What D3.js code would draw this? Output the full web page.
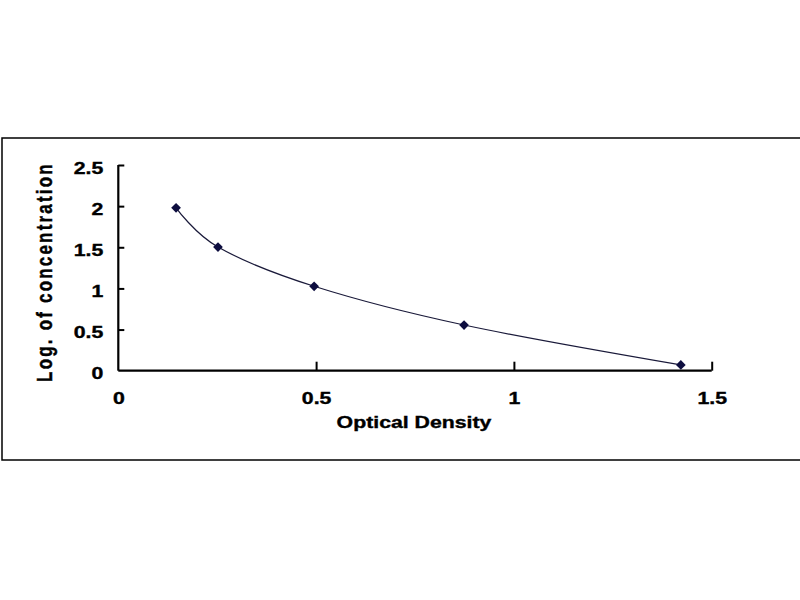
<!DOCTYPE html>
<html>
<head>
<meta charset="utf-8">
<script src="https://cdn.jsdelivr.net/npm/d3@7"></script>
<style>
  html, body { margin: 0; padding: 0; background: #fff; }
  svg { display: block; }
  text { font-family: "Liberation Sans", Arial, sans-serif; font-weight: bold; fill: #000; stroke: #000; stroke-width: 0.35px; }
</style>
</head>
<body>
<svg id="chart" width="800" height="600"></svg>
<script>
// Data
const opticalDensity = [0.146, 0.252, 0.495, 0.874, 1.422];
const logConcentration = [1.98, 1.503, 1.026, 0.555, 0.07];
const xTicks = [0, 0.5, 1, 1.5];
const yTicks = [0, 0.5, 1, 1.5, 2, 2.5];
const xTitle = "Optical Density";
const yTitle = "Log. of concentration";

const svg = d3.select("#chart");
const stretch = 1.33; // reference text is horizontally widened

// outer frame
svg.append("rect")
  .attr("x", 2).attr("y", 138)
  .attr("width", 810).attr("height", 322)
  .attr("fill", "#fff").attr("stroke", "#000").attr("stroke-width", 1.5);

const x = d3.scaleLinear().domain([0, 1.5]).range([118.3, 711.7]);
const y = d3.scaleLinear().domain([0, 2.5]).range([370.7, 165]);

// x axis
const xAxis = d3.axisBottom(x).tickValues(xTicks).tickSize(-9).tickPadding(0)
  .tickFormat(d3.format("~g"));
const gx = svg.append("g").attr("transform", `translate(0,${y(0)})`).call(xAxis);
gx.select(".domain").attr("d", `M${x(0)},0H${x(1.5)}`).attr("stroke-width", 2.2);
gx.selectAll(".tick line").attr("stroke-width", 2);
gx.selectAll(".tick").filter(d => d === 0).select("line").remove();
gx.selectAll(".tick text")
  .attr("y", 0).attr("dy", 0)
  .attr("transform", `translate(0,33) scale(${stretch},1)`)
  .attr("fill", "#000").attr("stroke", "#000").attr("stroke-width", 0.35)
  .style("font-size", "16px").style("font-family", "Liberation Sans, Arial, sans-serif")
  .style("font-weight", "bold");

// y axis
const yAxis = d3.axisLeft(y).tickValues(yTicks).tickSize(-6).tickPadding(0)
  .tickFormat(d3.format("~g"));
const gy = svg.append("g").attr("transform", `translate(${x(0)},0)`).call(yAxis);
gy.select(".domain").attr("d", `M0,${y(0)}V${y(2.5)}`).attr("stroke-width", 2.2);
gy.selectAll(".tick line").attr("stroke-width", 2);
gy.selectAll(".tick").filter(d => d === 0).select("line").remove();
gy.selectAll(".tick text")
  .attr("x", 0).attr("dy", 0)
  .attr("transform", `translate(-15,8) scale(${stretch},1)`)
  .attr("fill", "#000").attr("stroke", "#000").attr("stroke-width", 0.35)
  .style("font-size", "16px").style("font-family", "Liberation Sans, Arial, sans-serif")
  .style("font-weight", "bold");

// axis titles
svg.append("text")
  .attr("transform", `translate(414,427.5) scale(${stretch},1)`)
  .attr("text-anchor", "middle")
  .style("font-size", "16px")
  .text(xTitle);

svg.append("text")
  .attr("transform", "translate(52.3,272) rotate(-90) scale(1,1.28)")
  .attr("text-anchor", "middle")
  .style("font-size", "17px")
  .style("letter-spacing", "2.2px")
  .attr("stroke-width", 0.5)
  .text(yTitle);

// smoothed curve
const pts = opticalDensity.map((d, i) => [d, logConcentration[i]]);
const line = d3.line()
  .x(d => x(d[0])).y(d => y(d[1]))
  .curve(d3.curveCardinal.tension(0));
svg.append("path")
  .datum(pts)
  .attr("d", line)
  .attr("fill", "none")
  .attr("stroke", "#1a1a3a")
  .attr("stroke-width", 1.2);

// diamond markers
const diamond = d3.symbol().type(d3.symbolDiamond2).size(60);
svg.selectAll(".pt")
  .data(pts)
  .join("path")
  .attr("class", "pt")
  .attr("transform", d => `translate(${x(d[0])},${y(d[1])})`)
  .attr("d", diamond)
  .attr("fill", "#0d0d3f");
</script>
</body>
</html>
